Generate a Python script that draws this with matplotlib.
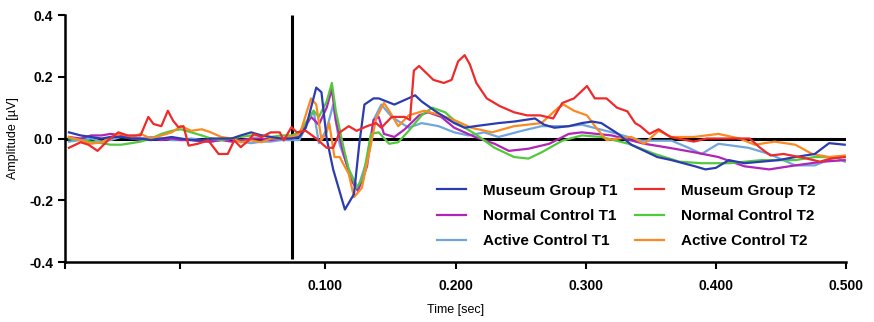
import numpy as np
import matplotlib
matplotlib.use("Agg")
import matplotlib.pyplot as plt

plt.rcParams['font.family'] = ['Liberation Sans', 'DejaVu Sans']

# shared pre-stimulus time grid (sec)
t_pre = [-0.097, -0.088, -0.080, -0.072, -0.065, -0.057, -0.049, -0.042, -0.034, -0.026, -0.018, -0.011,
         -0.003, 0.005, 0.012, 0.020, 0.028, 0.035, 0.043, 0.051, 0.058, 0.066, 0.074]

# Museum Group T1
mg1_pre = [0.02, 0.01, 0.005, 0.0, 0.005, 0.005, 0.0, 0.0, -0.005, 0.0, 0.005, 0.0,
           -0.005, -0.005, 0.0, 0.0, 0.0, 0.01, 0.02, 0.01, 0.005, 0.0, 0.0]
mg1_t = [0.080, 0.085, 0.093, 0.097, 0.101, 0.106, 0.115, 0.122, 0.126, 0.130, 0.137, 0.141, 0.153, 0.169,
         0.174, 0.184, 0.199, 0.207, 0.215, 0.224, 0.233, 0.245, 0.261, 0.268, 0.276, 0.287, 0.297, 0.305,
         0.312, 0.325, 0.335, 0.345, 0.355, 0.366, 0.384, 0.392, 0.400, 0.410, 0.422, 0.435, 0.448, 0.461,
         0.476, 0.487, 0.499]
mg1_v = [0.005, 0.035, 0.165, 0.15, 0.0, -0.10, -0.23, -0.18, -0.02, 0.11, 0.13, 0.13, 0.11, 0.14,
         0.12, 0.09, 0.05, 0.035, 0.04, 0.045, 0.05, 0.055, 0.065, 0.045, 0.035, 0.04, 0.05, 0.055,
         0.05, 0.015, -0.02, -0.04, -0.06, -0.07, -0.09, -0.10, -0.095, -0.07, -0.08, -0.075, -0.07, -0.06,
         -0.05, -0.015, -0.02]

# Museum Group T2
mg2_t = [-0.097, -0.088, -0.082, -0.075, -0.067, -0.059, -0.052, -0.042, -0.036, -0.032, -0.026, -0.021,
         -0.017, -0.013, -0.009, -0.005, 0.002, 0.010, 0.018, 0.025, 0.030, 0.035, 0.041, 0.045, 0.051,
         0.058, 0.065, 0.068, 0.074,
         0.078, 0.085, 0.093, 0.101, 0.106, 0.111, 0.118, 0.124, 0.132, 0.139, 0.143, 0.151, 0.161, 0.165,
         0.168, 0.172, 0.183, 0.191, 0.197, 0.202, 0.207, 0.211, 0.216, 0.224, 0.234, 0.245, 0.255, 0.265,
         0.275, 0.282, 0.291, 0.301, 0.307, 0.316, 0.324, 0.332, 0.338, 0.342, 0.349, 0.356, 0.365, 0.383,
         0.393, 0.406, 0.426, 0.434, 0.442, 0.452, 0.470, 0.480, 0.488, 0.499]
mg2_v = [-0.03, -0.012, -0.02, -0.04, -0.006, 0.02, 0.01, 0.01, 0.07, 0.047, 0.04, 0.09,
         0.058, 0.037, 0.04, -0.023, -0.017, -0.006, -0.05, -0.05, -0.006, -0.028, -0.006, 0.015, 0.005,
         0.02, 0.02, -0.006, 0.037,
         0.02, 0.025, 0.0, -0.03, -0.03, 0.02, 0.04, 0.025, 0.04, 0.05, 0.035, 0.07, 0.07, 0.06,
         0.22, 0.235, 0.19, 0.18, 0.19, 0.25, 0.27, 0.24, 0.18, 0.13, 0.105, 0.085, 0.075, 0.075,
         0.065, 0.115, 0.13, 0.17, 0.13, 0.13, 0.10, 0.088, 0.05, 0.04, 0.015, 0.03, 0.005, -0.01,
         0.0, 0.0, 0.0, -0.03, -0.055, -0.05, -0.065, -0.075, -0.065, -0.06]

# Normal Control T1
nc1_pre = [0.005, 0.0, 0.01, 0.01, 0.015, 0.01, 0.0, -0.005, 0.0, -0.005, 0.0, -0.005,
           -0.005, -0.01, -0.01, -0.005, -0.01, -0.005, 0.0, 0.0, -0.005, 0.0, 0.005]
nc1_t = [0.080, 0.089, 0.095, 0.101, 0.105, 0.108, 0.114, 0.120, 0.125, 0.132, 0.137, 0.141, 0.145, 0.153,
         0.161, 0.172, 0.179, 0.189, 0.199, 0.215, 0.230, 0.241, 0.256, 0.272, 0.287, 0.297, 0.320, 0.345,
         0.364, 0.384, 0.402, 0.422, 0.441, 0.461, 0.482, 0.499]
nc1_v = [0.01, 0.07, 0.045, 0.10, 0.16, 0.06, -0.05, -0.135, -0.17, -0.09, 0.06, 0.07, 0.015, 0.005,
         0.03, 0.075, 0.085, 0.07, 0.035, 0.005, -0.017, -0.04, -0.033, -0.017, 0.015, 0.02, 0.01, -0.017,
         -0.03, -0.045, -0.06, -0.09, -0.10, -0.087, -0.075, -0.07]

# Normal Control T2
nc2_pre = [0.0, -0.005, -0.01, -0.015, -0.02, -0.02, -0.015, -0.01, 0.0, 0.015, 0.025, 0.03,
           0.02, 0.01, 0.0, -0.005, 0.0, 0.005, 0.01, 0.01, 0.005, 0.01, 0.01]
nc2_t = [0.080, 0.091, 0.095, 0.101, 0.105, 0.108, 0.114, 0.118, 0.124, 0.129, 0.135, 0.141, 0.149, 0.156,
         0.164, 0.174, 0.182, 0.192, 0.202, 0.215, 0.230, 0.245, 0.256, 0.266, 0.282, 0.297, 0.312, 0.333,
         0.353, 0.372, 0.389, 0.410, 0.435, 0.461, 0.476, 0.499]
nc2_v = [0.02, 0.09, 0.07, 0.12, 0.18, 0.09, -0.03, -0.10, -0.16, -0.125, 0.015, 0.02, -0.017, -0.012,
         0.025, 0.075, 0.10, 0.085, 0.048, 0.015, -0.03, -0.06, -0.065, -0.045, -0.007, 0.01, 0.005, -0.017,
         -0.05, -0.075, -0.08, -0.08, -0.07, -0.07, -0.06, -0.06]

# Active Control T1
ac1_pre = [-0.01, -0.005, 0.0, -0.01, -0.005, 0.005, 0.005, 0.0, 0.005, 0.0, -0.005, -0.005,
           0.0, -0.005, -0.01, -0.005, 0.0, -0.01, -0.015, -0.01, -0.01, -0.005, -0.005]
ac1_t = [0.080, 0.091, 0.095, 0.101, 0.106, 0.111, 0.118, 0.125, 0.132, 0.137, 0.143, 0.151, 0.164, 0.174,
         0.187, 0.199, 0.210, 0.222, 0.233, 0.251, 0.266, 0.287, 0.297, 0.320, 0.343, 0.366, 0.379, 0.389,
         0.402, 0.425, 0.441, 0.461, 0.476, 0.492, 0.499]
ac1_v = [-0.005, 0.09, -0.015, 0.03, 0.11, -0.02, -0.10, -0.16, -0.07, 0.06, 0.11, 0.07, 0.035, 0.05,
         0.04, 0.02, 0.01, 0.02, 0.005, 0.025, 0.04, 0.04, 0.045, 0.02, -0.007, -0.007, -0.03, -0.05,
         -0.017, -0.03, -0.05, -0.087, -0.087, -0.06, -0.075]

# Active Control T2
ac2_pre = [0.005, -0.006, -0.017, -0.012, 0.005, 0.015, 0.005, 0.015, 0.0, 0.01, 0.02, 0.04,
           0.025, 0.03, 0.02, 0.005, 0.0, -0.012, -0.006, -0.012, 0.0, 0.0, 0.007]
ac2_t = [0.080, 0.089, 0.093, 0.097, 0.101, 0.103, 0.107, 0.111, 0.118, 0.122, 0.128, 0.134, 0.139, 0.145,
         0.149, 0.156, 0.164, 0.176, 0.189, 0.199, 0.212, 0.228, 0.245, 0.266, 0.279, 0.283, 0.291, 0.301,
         0.308, 0.316, 0.335, 0.345, 0.356, 0.366, 0.383, 0.402, 0.418, 0.430, 0.445, 0.461, 0.474, 0.487,
         0.499]
ac2_v = [0.01, 0.13, 0.11, -0.005, 0.02, 0.05, -0.06, -0.06, -0.115, -0.19, -0.16, -0.04, 0.065, 0.115,
         0.09, 0.04, 0.075, 0.09, 0.075, 0.06, 0.035, 0.02, 0.04, 0.05, 0.10, 0.11, 0.09, 0.075,
         0.035, -0.005, 0.005, -0.017, 0.025, 0.005, 0.005, 0.015, 0.0, -0.02, -0.01, -0.02, -0.05, -0.06,
         -0.055]

labels = ["Museum Group T1", "Normal Control T1", "Active Control T1",
          "Museum Group T2", "Normal Control T2", "Active Control T2"]
colors = ["#2b3cb0", "#b025b5", "#6fa6de", "#ee2a2a", "#52c93c", "#fb8a22"]

series = [
    (t_pre + mg1_t, mg1_pre + mg1_v),
    (t_pre + nc1_t, nc1_pre + nc1_v),
    (t_pre + ac1_t, ac1_pre + ac1_v),
    (mg2_t, mg2_v),
    (t_pre + nc2_t, nc2_pre + nc2_v),
    (t_pre + ac2_t, ac2_pre + ac2_v),
]
draw_order = [2, 1, 4, 5, 0, 3]

fig = plt.figure(figsize=(8.74, 3.22), dpi=100)
ax = fig.add_axes([0.0744, 0.1863, 0.8936, 0.767])

ax.axhline(0, color="black", lw=2.2, zorder=1)
ax.vlines(0.074, -0.39, 0.4, color="black", lw=2.2, zorder=1)

handles = [None] * 6
for i in draw_order:
    t, v = series[i]
    handles[i], = ax.plot(t, v, color=colors[i], lw=1.6, label=labels[i], zorder=2)

ax.set_xlim(-0.1, 0.5)
ax.set_ylim(-0.4, 0.4)
ax.set_xticks([-0.1, -0.012, 0.1, 0.2, 0.3, 0.4, 0.5])
ax.set_xticklabels(["", "", "0.100", "0.200", "0.300", "0.400", "0.500"], fontweight="bold", fontsize=10)
ax.set_yticks([-0.4, -0.2, 0.0, 0.2, 0.4])
ax.set_yticklabels(["-0.4", "-0.2", "0.0", "0.2", "0.4"], fontweight="bold", fontsize=10)
ax.tick_params(direction="out", length=5, width=1.5)
ax.tick_params(axis="x", pad=7)
for s in ["top", "right"]:
    ax.spines[s].set_visible(False)
for s in ["left", "bottom"]:
    ax.spines[s].set_linewidth(1.8)

ax.set_xlabel("Time [sec]", fontsize=9, labelpad=8)
ax.set_ylabel("Amplitude [\u00b5V]", fontsize=9, labelpad=7)

leg = ax.legend(handles=handles, ncol=2, loc="lower left", bbox_to_anchor=(0.476, 0.055),
                frameon=False, handlelength=1.9, handletextpad=1.1, columnspacing=1.2,
                labelspacing=0.75, borderpad=0, borderaxespad=0,
                prop={"weight": "bold", "size": 11})

fig.savefig("out.png", dpi=100)
